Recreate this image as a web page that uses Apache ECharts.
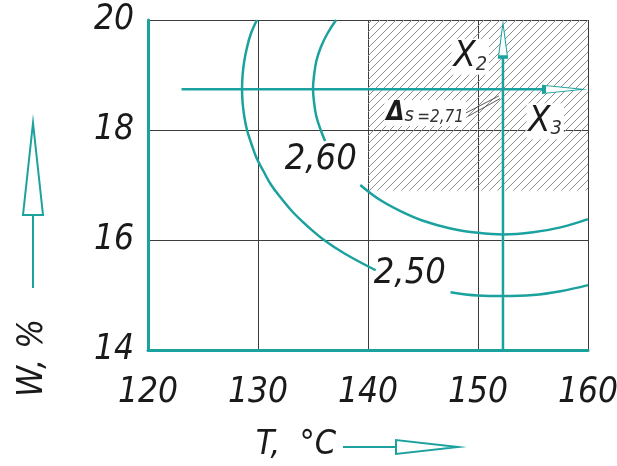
<!DOCTYPE html>
<html><head><meta charset="utf-8">
<script src="https://cdn.jsdelivr.net/npm/echarts@6/dist/echarts.min.js"></script>
<style>html,body{margin:0;padding:0;background:#fff}#c{width:617px;height:466px}</style>
</head><body><div id="c"></div>
<script>
// Axis ticks
const tempTicks = [120, 130, 140, 150, 160];      // T, °C
const moistTicks = [14, 16, 18, 20];              // W, %

// Iso-lines of the response (parts before / after their labels)
const iso250Upper = [[129.9,20],[129.35,19.75],[129.0,19.5],[128.75,19.25],[128.6,19.0],[128.55,18.75],[128.6,18.5],[128.75,18.25],[129.0,18.0],[129.4,17.75],[129.85,17.5],[130.5,17.25],[131.2,17.0],[132.15,16.75],[133.2,16.5],[134.5,16.25],[136.0,16.0],[137.9,15.75],[140.7,15.45]];
const iso250Lower = [[147.5,15.05],[150,14.99],[152.3,14.98],[155,15.0],[157.5,15.07],[160,15.18]];
const iso260Upper = [[137.1,20],[136.3,19.75],[135.7,19.5],[135.3,19.25],[135.1,19.0],[135.0,18.75],[135.1,18.5],[135.3,18.25],[135.7,18.0],[136.1,17.8]];
const iso260Lower = [[139.3,17.0],[141,16.74],[143,16.52],[145,16.35],[147.5,16.21],[150,16.13],[152.3,16.1],[155,16.14],[157.5,16.23],[160,16.38]];
const isoLabels = [{ value: [135.7, 17.47], text: '2,60' }, { value: [143.8, 15.38], text: '2,50' }];

// Optimum region and the factor axes through the optimum point
const optimumBox = [[140, 20], [160, 16.9]];
const x2Axis = [[152.27, 14], [152.27, 19.33]];
const x3Axis = [[123.05, 18.74], [156.0, 18.74]];
const x2Head = [152.27, 19.636];
const x3Head = [157.77, 18.74];
const leader = [[148.9, 18.31], [151.9, 18.62]];
const leader2 = [[149.1, 18.25], [152.0, 18.57]];
const deltaLabel = { value: [145.2, 18.31], text: '2,71' };
const x2Label = [149.3, 19.33];
const x3Label = [156.1, 18.16];

const TEAL = '#1ba29f';
const INK = '#1a1a1a';
const FONT = "'DejaVu Sans Condensed','DejaVu Sans',sans-serif";

// diagonal hatching tile
function hatchTile() {
  const c = document.createElement('canvas');
  c.width = 8; c.height = 8;
  const g = c.getContext('2d');
  g.strokeStyle = '#8e8e8e';
  g.lineWidth = 1;
  g.beginPath();
  g.moveTo(0, 8); g.lineTo(8, 0);
  g.moveTo(-2, 2); g.lineTo(2, -2);
  g.moveTo(6, 10); g.lineTo(10, 6);
  g.stroke();
  return c;
}

const chart = echarts.init(document.getElementById('c'), null, { renderer: 'canvas' });

const lineStyle = { color: TEAL, width: 2.5 };
function isoSeries(data) {
  return { type: 'line', data, smooth: 0.4, symbol: 'none', lineStyle, z: 5, silent: true };
}
function arrowHead(pos, size, rotate) {
  return {
    type: 'scatter', data: [pos], symbol: 'triangle', symbolSize: size, symbolRotate: rotate,
    itemStyle: { color: '#fff', borderColor: TEAL, borderWidth: 1.8, opacity: 1 }, z: 7, silent: true
  };
}

chart.setOption({
  animation: false,
  grid: { left: 148, right: 29, top: 20, bottom: 116, containLabel: false, outerBoundsMode: 'none' },
  xAxis: {
    type: 'value', min: tempTicks[0], max: tempTicks[tempTicks.length - 1], interval: tempTicks[1] - tempTicks[0],
    axisLine: { show: true, lineStyle: { color: TEAL, width: 3 } },
    axisTick: { show: false },
    splitLine: { show: true, lineStyle: { color: '#3c3c3c', width: 1 } },
    axisLabel: { color: INK, fontFamily: FONT, fontStyle: 'italic', fontSize: 35, margin: 25 }
  },
  yAxis: {
    type: 'value', min: moistTicks[0], max: moistTicks[moistTicks.length - 1], interval: moistTicks[1] - moistTicks[0],
    axisLine: { show: true, lineStyle: { color: TEAL, width: 3 } },
    axisTick: { show: false },
    splitLine: { show: true, lineStyle: { color: '#3c3c3c', width: 1 } },
    axisLabel: { color: INK, fontFamily: FONT, fontStyle: 'italic', fontSize: 35, margin: 14 }
  },
  series: [
    {
      type: 'line', data: [], z: 1, silent: true,
      markArea: {
        silent: true,
        itemStyle: { color: { image: hatchTile(), repeat: 'repeat' } },
        data: [[{ coord: optimumBox[0] }, { coord: optimumBox[1] }]]
      }
    },
    isoSeries(iso250Upper), isoSeries(iso250Lower), isoSeries(iso260Upper), isoSeries(iso260Lower),
    { type: 'line', data: x2Axis, symbol: 'none', lineStyle, z: 6, silent: true },
    { type: 'line', data: x3Axis, symbol: 'none', lineStyle, z: 6, silent: true },
    arrowHead(x2Head, [9, 34], 0),
    arrowHead(x3Head, [8, 39], -90),
    { type: 'line', data: leader, symbol: 'none', lineStyle: { color: '#333', width: 0.8 }, z: 6, silent: true },
    { type: 'line', data: leader2, symbol: 'none', lineStyle: { color: '#333', width: 0.8 }, z: 6, silent: true },
    {
      type: 'scatter', symbolSize: 0, z: 8, silent: true, itemStyle: { opacity: 1 },
      data: isoLabels.map(d => ({ value: d.value, label: { formatter: d.text } })),
      label: { show: true, position: 'inside', color: INK, fontFamily: FONT, fontStyle: 'italic', fontSize: 36 }
    },
    {
      type: 'scatter', symbolSize: 0, z: 8, silent: true, itemStyle: { opacity: 1 },
      data: [
        { value: x2Label, label: { formatter: '{x|X}{s|2}' } },
        { value: x3Label, label: { formatter: '{x|X}{s|3}' } },
        { value: deltaLabel.value, label: { formatter: '{d|Δ}{s|s} {n|=' + deltaLabel.text + '}' } }
      ],
      label: {
        show: true, position: 'inside', backgroundColor: '#fff', padding: [0, 2],
        rich: {
          x: { fontFamily: FONT, fontStyle: 'italic', fontSize: 36, color: INK, verticalAlign: 'bottom' },
          s: { fontFamily: FONT, fontStyle: 'italic', fontSize: 20, color: '#333', verticalAlign: 'bottom' },
          d: { fontFamily: FONT, fontStyle: 'italic', fontWeight: 'bold', fontSize: 26, color: INK, verticalAlign: 'bottom' },
          n: { fontFamily: FONT, fontStyle: 'italic', fontSize: 17, color: '#333', verticalAlign: 'bottom' }
        }
      }
    }
  ],
  graphic: [
    // W axis caption and arrow
    { type: 'line', shape: { x1: 33, y1: 288, x2: 33, y2: 215 }, style: { stroke: TEAL, lineWidth: 2 } },
    { type: 'polygon', shape: { points: [[33, 123], [23, 215], [43, 215]] }, style: { fill: '#fff', stroke: TEAL, lineWidth: 2 } },
    { type: 'text', x: 33, y: 358, rotation: Math.PI / 2, style: { text: 'W, %', font: "italic 35px " + FONT, fill: INK, align: 'center', verticalAlign: 'middle' } },
    // T axis caption and arrow
    { type: 'text', x: 296, y: 445, style: { text: 'T,  °C', font: "italic 34px " + FONT, fill: INK, align: 'center', verticalAlign: 'middle' } },
    { type: 'line', shape: { x1: 343, y1: 447, x2: 396, y2: 447 }, style: { stroke: TEAL, lineWidth: 2 } },
    { type: 'polygon', shape: { points: [[458, 447], [396, 440], [396, 454]] }, style: { fill: '#fff', stroke: TEAL, lineWidth: 2 } }
  ]
});
</script>
</body></html>
